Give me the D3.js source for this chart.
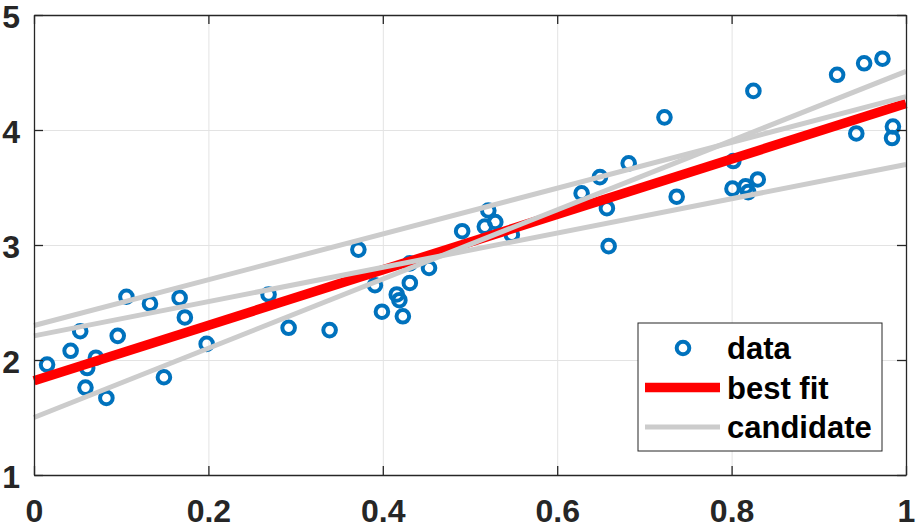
<!DOCTYPE html>
<html>
<head>
<meta charset="utf-8">
<script src="https://cdn.jsdelivr.net/npm/d3@7"></script>
<style>
  body { margin: 0; background: #fff; }
  svg { display: block; font-family: 'Liberation Sans', Arial, sans-serif; }
</style>
</head>
<body>
<div id="chart"></div>
<script>
// scatter points
const dataX = [0.015, 0.042, 0.053, 0.071, 0.061, 0.059, 0.083, 0.096, 0.106, 0.133,
  0.149, 0.167, 0.173, 0.198, 0.269, 0.292, 0.339, 0.372, 0.391, 0.399,
  0.416, 0.419, 0.423, 0.431, 0.431, 0.453, 0.491, 0.521, 0.517, 0.529,
  0.548, 0.628, 0.649, 0.657, 0.659, 0.682, 0.723, 0.737, 0.802, 0.801,
  0.816, 0.819, 0.825, 0.830, 0.921, 0.943, 0.952, 0.973, 0.985, 0.984]
const dataY = [1.96, 2.08, 2.25, 2.02, 1.93, 1.76, 1.67, 2.21, 2.55, 2.49,
  1.85, 2.54, 2.37, 2.14, 2.57, 2.28, 2.26, 2.96, 2.65, 2.42,
  2.57, 2.52, 2.38, 2.67, 2.84, 2.80, 3.12, 3.30, 3.16, 3.20,
  3.09, 3.45, 3.59, 3.32, 2.99, 3.71, 4.11, 3.42, 3.73, 3.49,
  3.51, 3.46, 4.34, 3.57, 4.48, 3.97, 4.58, 4.62, 4.03, 3.93]

// lines: [intercept, value at x = 1]
const bestFit = [1.82, 4.23]
const candidates = [[2.30, 4.29], [1.50, 4.51], [2.21, 3.70]]

const xTicks = [0, 0.2, 0.4, 0.6, 0.8, 1]
const yTicks = [1, 2, 3, 4, 5]
const legendLabels = ['data', 'best fit', 'candidate']

const margin = { top: 15, right: 11, bottom: 54, left: 34 }
const W = 917
const H = 529
const width = W - margin.left - margin.right
const height = H - margin.top - margin.bottom
const axisColor = '#262626'

const x = d3.scaleLinear().domain([0, 1]).range([0, width])
const y = d3.scaleLinear().domain([1, 5]).range([height, 0])
const fmt = d3.format('~g')

const svg = d3.select('#chart').append('svg')
  .attr('width', W)
  .attr('height', H)

const g = svg.append('g')
  .attr('transform', 'translate(' + margin.left + ',' + margin.top + ')')

// grid
g.append('g')
  .attr('transform', 'translate(0,' + height + ')')
  .call(d3.axisBottom(x).tickValues(xTicks).tickSize(-height).tickFormat(''))
  .call(s => s.select('.domain').remove())
  .selectAll('line').attr('stroke', '#e3e3e3').attr('stroke-width', 1)
g.append('g')
  .call(d3.axisLeft(y).tickValues(yTicks).tickSize(-width).tickFormat(''))
  .call(s => s.select('.domain').remove())
  .selectAll('line').attr('stroke', '#e3e3e3').attr('stroke-width', 1)

// data
g.append('g')
  .selectAll('circle')
  .data(dataX.map((d, i) => [d, dataY[i]]))
  .join('circle')
  .attr('cx', d => x(d[0]))
  .attr('cy', d => y(d[1]))
  .attr('r', 6.3)
  .attr('fill', 'none')
  .attr('stroke', '#0072BD')
  .attr('stroke-width', 4)

const line = d3.line().x(d => x(d[0])).y(d => y(d[1]))
const toPts = l => [[0, l[0]], [1, l[1]]]

g.append('path')
  .attr('d', line(toPts(bestFit)))
  .attr('fill', 'none')
  .attr('stroke', '#ff0000')
  .attr('stroke-width', 9.5)

g.append('g')
  .selectAll('path')
  .data(candidates)
  .join('path')
  .attr('d', d => line(toPts(d)))
  .attr('fill', 'none')
  .attr('stroke', '#cccccc')
  .attr('stroke-width', 5)

// axes, ticks inward on all four sides
const styleAxis = s => {
  s.select('.domain').attr('stroke', axisColor).attr('stroke-width', 1.3)
  s.selectAll('.tick line').attr('stroke', axisColor).attr('stroke-width', 1.3)
  s.selectAll('text')
    .attr('fill', axisColor)
    .style('font-size', '32px')
    .style('font-weight', 'bold')
}

g.append('g')
  .attr('transform', 'translate(0,' + height + ')')
  .call(d3.axisBottom(x).tickValues(xTicks).tickSize(-9).tickSizeOuter(0).tickPadding(24).tickFormat(fmt))
  .call(styleAxis)
g.append('g')
  .call(d3.axisTop(x).tickValues(xTicks).tickSize(-9).tickSizeOuter(0).tickFormat(''))
  .call(styleAxis)
g.append('g')
  .call(d3.axisLeft(y).tickValues(yTicks).tickSize(-9).tickSizeOuter(0).tickPadding(14).tickFormat(fmt))
  .call(styleAxis)
  .call(s => s.selectAll('text').attr('dy', '0.38em'))
g.append('g')
  .attr('transform', 'translate(' + width + ',0)')
  .call(d3.axisRight(y).tickValues(yTicks).tickSize(-9).tickSizeOuter(0).tickFormat(''))
  .call(styleAxis)

// legend
const legend = svg.append('g').attr('transform', 'translate(638,323)')
legend.append('rect')
  .attr('width', 244)
  .attr('height', 128)
  .attr('fill', '#fff')
  .attr('stroke', axisColor)
  .attr('stroke-width', 1)

const rows = legend.selectAll('g')
  .data(legendLabels)
  .join('g')
  .attr('transform', (d, i) => 'translate(0,' + (25 + i * 39.5) + ')')

rows.filter((d, i) => i === 0).append('circle')
  .attr('cx', 45).attr('r', 6.3)
  .attr('fill', 'none').attr('stroke', '#0072BD').attr('stroke-width', 4)
rows.filter((d, i) => i === 1).append('line')
  .attr('x1', 7).attr('x2', 82)
  .attr('stroke', '#ff0000').attr('stroke-width', 9.5)
rows.filter((d, i) => i === 2).append('line')
  .attr('x1', 7).attr('x2', 82)
  .attr('stroke', '#cccccc').attr('stroke-width', 5)

rows.append('text')
  .attr('x', 89)
  .attr('dy', '0.36em')
  .style('font-size', '31px')
  .style('font-weight', 'bold')
  .attr('fill', '#000')
  .text(d => d)
</script>
</body>
</html>
